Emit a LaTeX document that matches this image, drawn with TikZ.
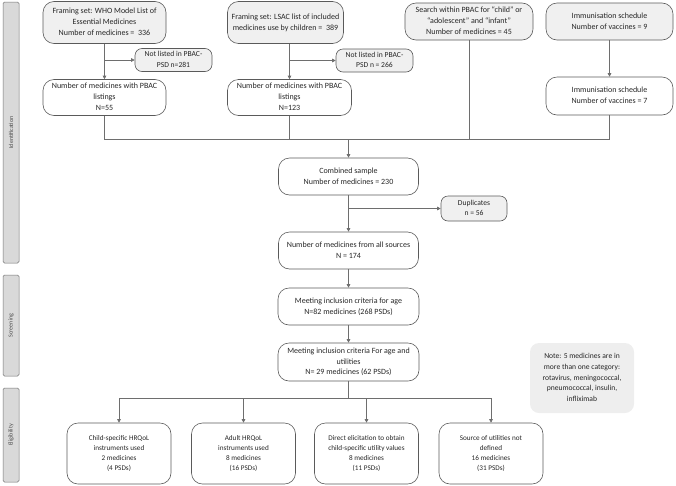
\documentclass[tikz,border=0pt]{standalone}
\usepackage{fontspec}
\setmainfont{Carlito}
\usetikzlibrary{arrows.meta}
\definecolor{ln}{HTML}{6E6E6E}
\definecolor{bd}{HTML}{5A5A5A}
\definecolor{gf}{HTML}{F0F0F0}
\definecolor{sb}{HTML}{D9D9D9}
\definecolor{nf}{HTML}{EEEEEE}
\newcommand\cl[1]{\begin{tabular}{@{}c@{}}#1\end{tabular}}
\begin{document}
\begin{tikzpicture}[x=1pt,y=-1pt,
  box/.style={draw=bd, line width=0.6pt, rounded corners=11pt,
    font=\fontsize{8}{10.8}\selectfont, inner sep=1pt, text=black!85},
  gbox/.style={box, fill=gf},
  sbox/.style={box, fill=gf, rounded corners=7pt, font=\fontsize{7.6}{10.2}\selectfont},
  bbox/.style={box, font=\fontsize{7.2}{10}\selectfont, minimum width=104pt, minimum height=61pt},
  conn/.style={draw=ln, line width=0.6pt},
  arr/.style={conn, -{Triangle[length=3.5pt,width=3.5pt]}},
  side/.style={draw=black!55, fill=sb, rounded corners=1.5pt, line width=0.5pt,
    font=\fontsize{6}{7}\selectfont, text=black!70, inner sep=0pt},
  ]
\useasboundingbox (0,0) rectangle (676,485);

% sidebars
\node[side, rotate=90, minimum width=261pt, minimum height=16pt] (sid) at (11,132.5) {Identification};
\node[side, rotate=90, minimum width=101pt, minimum height=16pt] (sscr) at (11,325.5) {Screening};
\node[side, rotate=90, minimum width=94pt, minimum height=16pt] (sel) at (11,435) {Eligibility};

% identification
\node[gbox, minimum width=123pt, minimum height=42pt] (who) at (104.5,22.5)
  {\cl{Framing set: WHO Model List of\\Essential Medicines\\Number of medicines =\ \ 336}};
\node[sbox, minimum width=77pt, minimum height=23pt] (nl1) at (173.5,60)
  {\cl{Not listed in PBAC-\\PSD n=281}};
\node[box, minimum width=123pt, minimum height=36pt] (pbac1) at (104.5,97.5)
  {\cl{Number of medicines with PBAC\\listings\\N=55}};

\node[gbox, minimum width=116pt, minimum height=42pt] (lsac) at (285.5,22.5)
  {\cl{Framing set: LSAC list of included\\medicines use by children =\ \ 389}};
\node[sbox, minimum width=77pt, minimum height=23pt] (nl2) at (374.5,60.5)
  {\cl{Not listed in PBAC-\\PSD n = 266}};
\node[box, minimum width=124pt, minimum height=36pt] (pbac2) at (289.5,97.5)
  {\cl{Number of medicines with PBAC\\listings\\N=123}};

\node[gbox, minimum width=128pt, minimum height=37pt] (search) at (469,21.5)
  {\cl{Search within PBAC for “child” or\\“adolescent” and “infant”\\Number of medicines = 45}};

\node[gbox, minimum width=127pt, minimum height=37pt] (im1) at (609.5,21.5)
  {\cl{Immunisation schedule\\Number of vaccines = 9}};
\node[box, minimum width=127pt, minimum height=38pt] (im2) at (609.5,96)
  {\cl{Immunisation schedule\\Number of vaccines = 7}};

\node[box, minimum width=140pt, minimum height=37pt] (comb) at (348.5,176.5)
  {\cl{Combined sample\\Number of medicines = 230}};
\node[sbox, minimum width=66pt, minimum height=25pt] (dup) at (474,208.5)
  {\cl{Duplicates\\n = 56}};
\node[box, minimum width=140pt, minimum height=37pt] (all) at (348.5,250.5)
  {\cl{Number of medicines from all sources\\N = 174}};

% screening
\node[box, minimum width=141pt, minimum height=37pt] (age) at (348.5,306.5)
  {\cl{Meeting inclusion criteria for age\\N=82 medicines (268 PSDs)}};
\node[box, minimum width=141pt, minimum height=38pt] (age2) at (348.5,362)
  {\cl{Meeting inclusion criteria For age and\\utilities\\N= 29 medicines (62 PSDs)}};

\node[fill=nf, rounded corners=9pt, minimum width=104pt, minimum height=70pt,
  font=\fontsize{7.6}{10.6}\selectfont, text=black!85, inner sep=1pt] (note) at (582,378)
  {\cl{Note: 5 medicines are in\\more than one category:\\rotavirus, meningococcal,\\pneumococcal, insulin,\\infliximab}};

% eligibility
\node[bbox] (ca) at (119,453.5) {\cl{Child-specific HRQoL\\instruments used\\2 medicines\\(4 PSDs)}};
\node[bbox] (cb) at (243.5,453.5) {\cl{Adult HRQoL\\instruments used\\8 medicines\\(16 PSDs)}};
\node[bbox] (cc) at (366.5,453.5) {\cl{Direct elicitation to obtain\\child-specific utility values\\8 medicines\\(11 PSDs)}};
\node[bbox] (cd) at (491,453.5) {\cl{Source of utilities not\\defined\\16 medicines\\(31 PSDs)}};

% connectors
\coordinate (jy) at (0,139);
\coordinate (by) at (0,398);
\draw[arr] (who) -- (pbac1);
\draw[arr] (pbac1.north |- nl1.west) -- (nl1.west);
\draw[arr] (pbac2.north |- lsac.south) -- (pbac2.north);
\draw[arr] (pbac2.north |- nl2.west) -- (nl2.west);
\draw[arr] (im1) -- (im2);
\draw[conn] (pbac1.south) -- (pbac1.south |- jy) -- (im2.south |- jy) -- (im2.south);
\draw[conn] (pbac2.south) -- (pbac2.south |- jy);
\draw[conn] (search.south) -- (search.south |- jy);
\draw[arr] (comb.north |- jy) -- (comb.north);
\draw[arr] (comb) -- (all);
\draw[arr] (comb.south |- dup.west) -- (dup.west);
\draw[arr] (all) -- (age);
\draw[arr] (age) -- (age2);
\draw[conn] (age2.south) -- (age2.south |- by);
\draw[conn] (ca.north |- by) -- (cd.north |- by);
\foreach \n in {ca,cb,cc,cd} \draw[arr] (\n.north |- by) -- (\n.north);
\end{tikzpicture}
\end{document}
